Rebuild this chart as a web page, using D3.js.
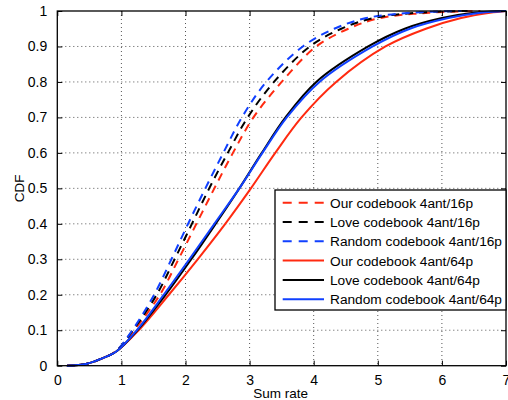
<!DOCTYPE html>
<html>
<head>
<meta charset="utf-8">
<script src="https://cdn.jsdelivr.net/npm/d3@7"></script>
<style>
html,body{margin:0;padding:0;background:#fff;}
svg{display:block;font-family:"Liberation Sans",Arial,Helvetica,sans-serif;}
</style>
</head>
<body>
<svg id="chart" width="508" height="400"></svg>
<script>
// CDF levels (y) shared by all series
const cdfLevels = [0, 0.005, 0.02, 0.04, 0.1, 0.2, 0.3, 0.4, 0.5, 0.6, 0.7, 0.8, 0.9, 0.95, 0.98, 0.995, 1];
// Sum-rate (x) reached by each series at those CDF levels
const our16    = [0.15, 0.45, 0.69, 0.91, 1.20, 1.60, 1.89, 2.17, 2.45, 2.74, 3.06, 3.50, 4.04, 4.54, 5.03, 5.8, 6.6];
const love16   = [0.15, 0.45, 0.69, 0.91, 1.18, 1.55, 1.83, 2.10, 2.37, 2.66, 2.97, 3.38, 3.94, 4.43, 4.93, 5.6, 6.4];
const random16 = [0.15, 0.45, 0.69, 0.91, 1.17, 1.51, 1.78, 2.04, 2.31, 2.59, 2.88, 3.26, 3.83, 4.32, 4.82, 5.5, 6.3];
const our64    = [0.15, 0.45, 0.69, 0.92, 1.27, 1.74, 2.19, 2.62, 3.02, 3.40, 3.81, 4.35, 5.12, 5.75, 6.3, 6.75, 7];
const love64   = [0.15, 0.45, 0.69, 0.92, 1.25, 1.69, 2.09, 2.47, 2.84, 3.19, 3.56, 4.04, 4.85, 5.42, 6.0, 6.5, 7];
const random64 = [0.15, 0.45, 0.69, 0.92, 1.24, 1.66, 2.06, 2.45, 2.84, 3.20, 3.58, 4.09, 4.92, 5.5, 6.1, 6.6, 7];

const seriesNames = ["Our codebook 4ant/16p", "Love codebook 4ant/16p", "Random codebook 4ant/16p",
                     "Our codebook 4ant/64p", "Love codebook 4ant/64p", "Random codebook 4ant/64p"];
const seriesData = [our16, love16, random16, our64, love64, random64];
const seriesColors = ["#ff2a10", "#000000", "#1040ff", "#ff2a10", "#000000", "#1040ff"];
const seriesDashed = [true, true, true, false, false, false];

const xTicks = [0, 1, 2, 3, 4, 5, 6, 7];
const yTicks = [0, 0.1, 0.2, 0.3, 0.4, 0.5, 0.6, 0.7, 0.8, 0.9, 1];
const xLabel = "Sum rate";
const yLabel = "CDF";

const svg = d3.select("#chart");
const L = 57.3, R = 506, T = 11, B = 365.7;
const x = d3.scaleLinear().domain([0, 7]).range([L, R]);
const y = d3.scaleLinear().domain([0, 1]).range([B, T]);

// grid
const grid = svg.append("g");
grid.selectAll(".gx").data(xTicks.slice(1, -1)).enter().append("line")
  .attr("x1", d => x(d)).attr("x2", d => x(d)).attr("y1", T).attr("y2", B)
  .attr("stroke", "#555").attr("stroke-width", 1).attr("stroke-dasharray", "1,3");
grid.selectAll(".gy").data(yTicks.slice(1, -1)).enter().append("line")
  .attr("y1", d => y(d)).attr("y2", d => y(d)).attr("x1", L).attr("x2", R)
  .attr("stroke", "#555").attr("stroke-width", 1).attr("stroke-dasharray", "1,3");

// curves
const line = d3.line()
  .y((d, i) => y(cdfLevels[i]))
  .x(d => x(d))
  .curve(d3.curveCatmullRom.alpha(0.5));
seriesData.forEach((s, k) => {
  svg.append("path")
    .attr("d", line(s))
    .attr("fill", "none")
    .attr("stroke", seriesColors[k])
    .attr("stroke-width", 2)
    .attr("stroke-dasharray", seriesDashed[k] ? "8,6" : null);
});

// axes (inner ticks on all sides)
const tickLen = 5;
const axB = svg.append("g").attr("transform", `translate(0,${B})`)
  .call(d3.axisBottom(x).tickValues(xTicks).tickSize(-tickLen).tickPadding(9).tickFormat(d3.format("d")));
const axT = svg.append("g").attr("transform", `translate(0,${T})`)
  .call(d3.axisTop(x).tickValues(xTicks).tickSize(-tickLen).tickFormat(""));
const axL = svg.append("g").attr("transform", `translate(${L},0)`)
  .call(d3.axisLeft(y).tickValues(yTicks).tickSize(-tickLen).tickPadding(10).tickFormat(d => d === 0 || d === 1 ? String(d) : d3.format(".1f")(d)));
const axR = svg.append("g").attr("transform", `translate(${R},0)`)
  .call(d3.axisRight(y).tickValues(yTicks).tickSize(-tickLen).tickFormat(""));
[axB, axT, axL, axR].forEach(a => {
  a.select(".domain").remove();
  a.selectAll(".tick line").attr("stroke", "#000").attr("stroke-width", 1);
  a.selectAll("text").attr("fill", "#000").style("font-size", "14px").style("font-family", '"Liberation Sans",Arial,sans-serif');
});
svg.append("rect").attr("x", L).attr("y", T).attr("width", R - L).attr("height", B - T)
  .attr("fill", "none").attr("stroke", "#000").attr("stroke-width", 1.3);

// axis labels
svg.append("text").attr("x", (L + R) / 2 - 1).attr("y", 398).attr("text-anchor", "middle")
  .style("font-size", "13.5px").text(xLabel);
svg.append("text").attr("transform", `translate(24,${(T + B) / 2}) rotate(-90)`).attr("text-anchor", "middle")
  .style("font-size", "13.5px").text(yLabel);

// legend
const lgX = 275, lgY = 190, lgW = 231, lgH = 120, rowH = 19.3;
const lg = svg.append("g");
lg.append("rect").attr("x", lgX).attr("y", lgY).attr("width", lgW).attr("height", lgH)
  .attr("fill", "#fff").attr("stroke", "#000").attr("stroke-width", 1.3);
seriesNames.forEach((n, k) => {
  const cy = lgY + 12.7 + k * rowH;
  lg.append("line").attr("x1", lgX + 7.7).attr("x2", lgX + 49).attr("y1", cy).attr("y2", cy)
    .attr("stroke", seriesColors[k]).attr("stroke-width", 2)
    .attr("stroke-dasharray", seriesDashed[k] ? "9,7" : null);
  lg.append("text").attr("x", lgX + 55).attr("y", cy).attr("dy", "0.36em")
    .style("font-size", "13.7px").text(n);
});
</script>
</body>
</html>
